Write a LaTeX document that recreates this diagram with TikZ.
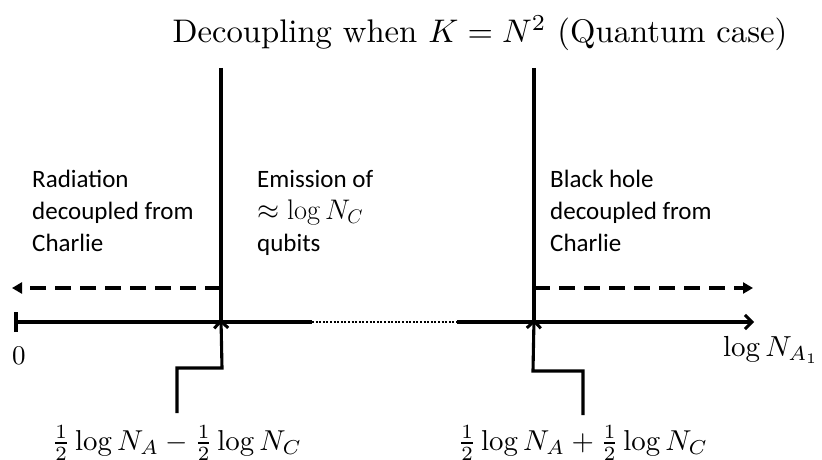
\documentclass[tikz,border=0pt]{standalone}
\usepackage[no-math]{fontspec}
\usetikzlibrary{arrows.meta}
\newfontfamily\calib{Carlito}
\begin{document}
\begin{tikzpicture}[x=1pt,y=-1pt,
  lbl/.style={font=\calib\fontsize{25}{32}\selectfont,align=left,anchor=north west,inner sep=0pt},
  mth/.style={inner sep=0pt},
  thick3/.style={line width=3.1pt},
  dash4/.style={line width=4pt,dash pattern=on 16pt off 9pt},
  barb/.style={-{Straight Barb[length=7pt,width=14pt,line width=3pt]}},
  tri/.style={-{Triangle[length=10pt,width=11pt]}}]
\useasboundingbox (0,0) rectangle (822,460);
% title
\node[mth] (title) at (480,33) {\scalebox{3.27}{Decoupling when $K=N^2$ (Quantum case)}};
% coordinates
\coordinate (Ltop) at (221,68);
\coordinate (Lax) at (221,322);
\coordinate (Rtop) at (534,68);
\coordinate (Rax) at (534,322);
\coordinate (Ldash) at (221,288);
\coordinate (Ldashend) at (12,288);
\coordinate (Rdash) at (534,288);
\coordinate (Rdashend) at (753,288);
\coordinate (zero) at (16,322);
\coordinate (dotA) at (312,322);
\coordinate (dotB) at (457,322);
\coordinate (axend) at (754,322);
\coordinate (la) at (177,413);
\coordinate (ra) at (583,415);
% vertical lines
\draw[thick3] (Ltop) -- (Lax);
\draw[thick3] (Rtop) -- (Rax);
% dashed arrows
\draw[dash4,tri] (Ldash) -- (Ldashend);
\draw[dash4,tri] (Rdash) -- (Rdashend);
% axis
\draw[thick3] ([yshift=-10pt]zero) -- ([yshift=10pt]zero);
\draw[thick3] (zero) -- (dotA);
\draw[line width=2.4pt,dash pattern=on 2pt off 1.6pt] (dotA) -- (dotB);
\draw[thick3,barb] (dotB) -- (axend);
% axis labels
\node[mth] (z) at (19,356) {\scalebox{2.7}{$0$}};
\node[mth] (logN) at (771,350) {\scalebox{2.9}{$\log N_{A_1}$}};
% region texts
\node[lbl] (rad) at (32,170) {Radiation\\decoupled from\\Charlie};
\node[lbl] (emi) at (257,170) {Emission of\\\resizebox{106pt}{!}{$\approx\log N_C$}\\qubits};
\node[lbl] (bh) at (550,170) {Black hole\\decoupled from\\Charlie};
% bottom labels
\node[mth] (lowL) at (177,443) {\scalebox{2.88}{$\frac12\log N_A-\frac12\log N_C$}};
\node[mth] (lowR) at (583,443) {\scalebox{2.88}{$\frac12\log N_A+\frac12\log N_C$}};
% bent arrows
\draw[thick3,barb] (la) -- (177,368) -- (222,368) -- ([yshift=3pt]Lax);
\draw[thick3,barb] (ra) -- (583,371) -- (533,371) -- ([yshift=3pt]Rax);
\end{tikzpicture}
\end{document}
